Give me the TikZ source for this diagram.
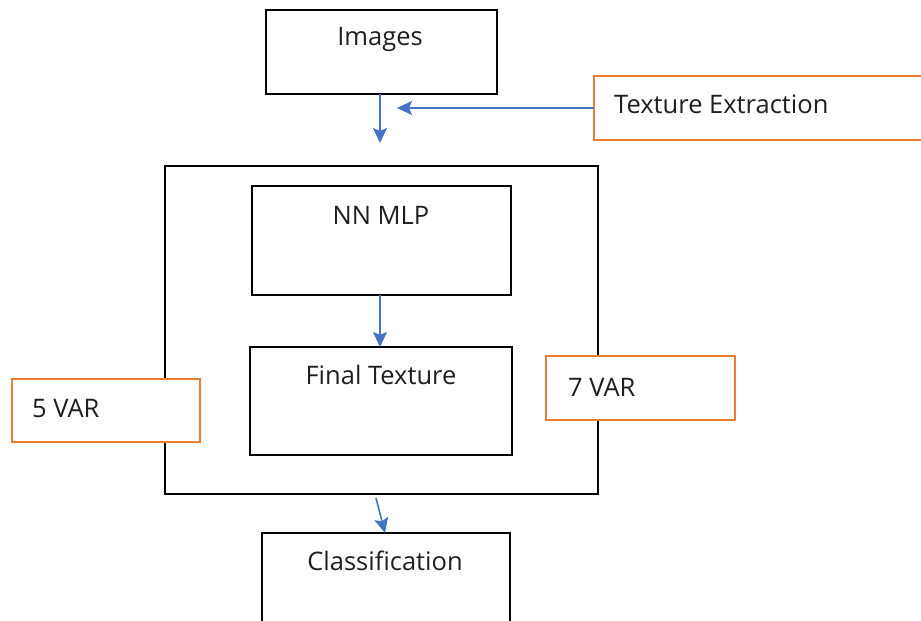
\documentclass[tikz,border=0pt]{standalone}
\usepackage{fontspec}
\setmainfont{Open Sans}
\usetikzlibrary{arrows.meta}
\definecolor{boxorange}{HTML}{ED7D31}
\definecolor{flowblue}{HTML}{4472C4}
\tikzset{
  blackbox/.style={draw=black, line width=1.5pt, inner sep=0pt, outer sep=0pt},
  orangebox/.style={draw=boxorange, fill=white, line width=1.5pt, inner sep=0pt, outer sep=0pt},
  lbl/.style={font=\fontsize{25.5}{30}\selectfont, text=black!88, inner sep=0pt},
  flow/.style={draw=flowblue, line width=1.6pt, -{Stealth[width=14pt,length=15pt,inset=3pt]}}
}
\begin{document}
\begin{tikzpicture}[x=1pt,y=-1pt]
\useasboundingbox (0,0) rectangle (921,621);

% boxes
\node[blackbox, minimum width=231pt, minimum height=84pt] (img) at (381.5,52) {};
\node[blackbox, minimum width=433pt, minimum height=328pt] (outer) at (381.5,330) {};
\node[blackbox, minimum width=259pt, minimum height=109pt] (mlp) at (381.5,240.5) {};
\node[blackbox, minimum width=262pt, minimum height=108pt] (fin) at (381,401) {};
\node[blackbox, minimum width=248pt, minimum height=96pt] (cls) at (386,581) {};
\node[orangebox, minimum width=335pt, minimum height=64pt] (tex) at (761.5,108) {};
\node[orangebox, minimum width=188pt, minimum height=63pt] (five) at (106,410.5) {};
\node[orangebox, minimum width=189pt, minimum height=64pt] (seven) at (640.5,388) {};

% texts
\node[lbl] (imgt) at (380,39) {Images};
\node[lbl, anchor=west] (text) at (614,104) {Texture Extraction};
\node[lbl] (mlpt) at (381,215) {NN MLP};
\node[lbl] (fint) at (381,375) {Final Texture};
\node[lbl, anchor=west] (fivet) at (32,408) {5 VAR};
\node[lbl, anchor=west] (sevent) at (568,387) {7 VAR};
\node[lbl] (clst) at (385,561) {Classification};

% connectors
\coordinate (imgdown) at (380,143);
\coordinate (texend) at (397,108);
\coordinate (outstart) at (376,498);
\draw[flow] (img.south -| 380,0) -- (imgdown);
\draw[flow] (tex.west |- texend) -- (texend);
\draw[flow] (mlp.south -| 380,0) -- (fin.north -| 380,0);
\draw[flow] (outstart) -- (cls.north -| 385,0);
\end{tikzpicture}
\end{document}
